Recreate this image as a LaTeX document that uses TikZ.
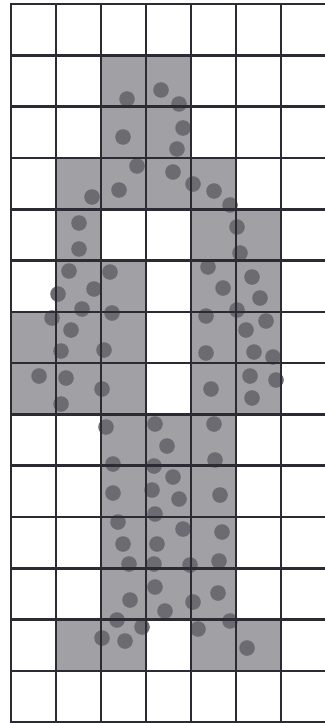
\documentclass[tikz,border=0pt]{standalone}
\definecolor{grink}{HTML}{2B2B33}
\definecolor{grshade}{HTML}{A1A1A5}
\definecolor{grdot}{HTML}{6B6B71}
\tikzset{
  gr line/.style={draw=grink, line width=2.6bp, line cap=rect},
  gr cell/.style={fill=grshade},
  gr dot/.style={fill=grdot}
}
\begin{document}
\begin{tikzpicture}[x=1bp, y=-1bp]
  \useasboundingbox (0,0) rectangle (324,723);
  % shaded cells (column/row, counted from top left)
  \foreach \c/\r in {2/1,3/1,2/2,3/2,1/3,2/3,3/3,4/3,1/4,4/4,5/4,1/5,2/5,4/5,5/5,
    0/6,1/6,2/6,4/6,5/6,0/7,1/7,2/7,4/7,5/7,2/8,3/8,4/8,2/9,3/9,4/9,
    2/10,3/10,4/10,2/11,3/11,4/11,1/12,2/12,4/12,5/12} {
    \fill[gr cell] ({11+45*\c},{4+51.3*\r}) rectangle +(45,51.3);
  }
  % dots
  \foreach \x/\y in {161/90,127/99,179/104,183/128,123/137,177/149,137/166,173/172,
    193/184,119/190,92/197,214/191,230/205,79/223,237/227,79/249,240/253,69/271,
    110/272,208/267,252/277,94/289,58/294,223/288,260/298,82/309,112/313,237/310,
    52/318,206/316,266/321,71/330,246/330,61/351,104/350,206/353,254/352,273/357,
    39/376,66/378,102/389,61/404,211/389,250/376,276/380,252/398,106/427,155/424,
    214/424,167/446,113/464,154/466,215/460,173/477,113/493,152/490,179/499,220/495,
    155/514,118/522,183/529,222/532,123/544,157/544,129/564,154/564,190/565,219/561,
    155/587,218/593,130/600,193/602,165/611,117/620,142/627,230/621,102/638,125/641,
    198/629,247/648} {
    \fill[gr dot] (\x,\y) circle (7.8bp);
  }
  % grid
  \foreach \i in {0,...,6} {\draw[gr line] ({11+45*\i},4) -- ({11+45*\i},722.2);}
  \foreach \j in {0,...,14} {\draw[gr line] (11,{4+51.3*\j}) -- (330,{4+51.3*\j});}
\end{tikzpicture}
\end{document}
